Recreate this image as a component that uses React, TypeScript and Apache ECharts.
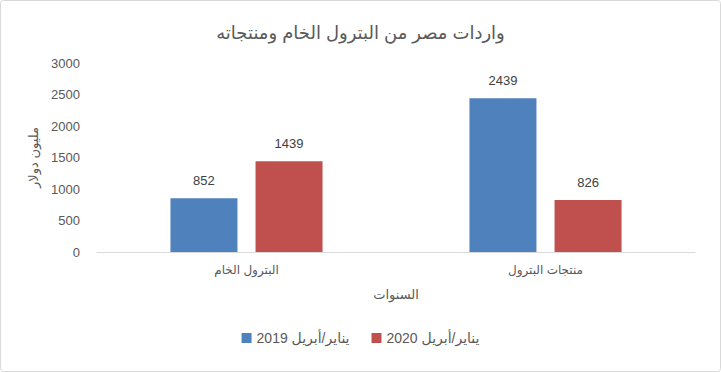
import React, { useEffect, useRef } from "react";
import * as echarts from "echarts";

const categories = ["البترول الخام", "منتجات البترول"];
const seriesNames = ["2019 يناير/أبريل", "2020 يناير/أبريل"];
const values2019 = [852, 2439];
const values2020 = [1439, 826];
const yTicks = [0, 500, 1000, 1500, 2000, 2500, 3000];

const FONT = "'Liberation Sans', Arial, 'DejaVu Sans', sans-serif";

export default function App() {
  const ref = useRef<HTMLDivElement>(null);
  useEffect(() => {
    if (!ref.current) return;
    const chart = echarts.init(ref.current, null, { renderer: "svg" });
    chart.setOption({
      animation: false,
      backgroundColor: "#ffffff",
      textStyle: { fontFamily: FONT },
      title: {
        text: "واردات مصر من البترول الخام ومنتجاته",
        left: "center",
        top: 19,
        textStyle: { fontSize: 18, fontWeight: "normal", color: "#595959", fontFamily: FONT },
      },
      graphic: [
        {
          type: "rect",
          shape: { x: 0.5, y: 0.5, width: 720, height: 371, r: 3 },
          style: { fill: "none", stroke: "#d9d9d9", lineWidth: 1 },
          silent: true,
        },
      ],
      legend: {
        bottom: 22,
        left: "center",
        icon: "rect",
        itemWidth: 10,
        itemHeight: 10,
        itemGap: 22,
        textStyle: { fontSize: 14, color: "#595959", fontFamily: FONT },
        data: seriesNames,
      },
      grid: { left: 97, right: 26, top: 63, bottom: 120, containLabel: false },
      xAxis: {
        type: "category",
        data: categories,
        name: "السنوات",
        nameLocation: "middle",
        nameGap: 36,
        nameTextStyle: { fontSize: 13, color: "#595959", fontFamily: FONT },
        axisLine: { lineStyle: { color: "#d9d9d9", width: 1 } },
        axisTick: { show: false },
        axisLabel: { fontSize: 12, color: "#595959", margin: 12, fontFamily: FONT },
      },
      yAxis: {
        type: "value",
        min: yTicks[0],
        max: yTicks[yTicks.length - 1],
        interval: 500,
        name: "مليون دولار",
        nameLocation: "middle",
        nameGap: 48,
        nameTextStyle: { fontSize: 13, color: "#595959", fontFamily: FONT },
        axisLine: { show: false },
        axisTick: { show: false },
        splitLine: { show: false },
        axisLabel: {
          fontSize: 13,
          color: "#595959",
          margin: 17,
          fontFamily: FONT,
          formatter: (v: number) => String(v),
        },
      },
      series: [
        {
          name: seriesNames[0],
          type: "bar",
          data: values2019,
          barWidth: 67,
          barGap: "27%",
          itemStyle: { color: "#4f81bd" },
          label: { show: true, position: "top", distance: 11, fontSize: 13, color: "#404040", fontFamily: FONT },
        },
        {
          name: seriesNames[1],
          type: "bar",
          data: values2020,
          barWidth: 67,
          barGap: "27%",
          itemStyle: { color: "#c0504d" },
          label: { show: true, position: "top", distance: 11, fontSize: 13, color: "#404040", fontFamily: FONT },
        },
      ],
    });
    return () => chart.dispose();
  }, []);
  return (
    <div
      ref={ref}
      style={{ position: "fixed", left: 0, top: 0, width: 721, height: 372 }}
    />
  );
}
